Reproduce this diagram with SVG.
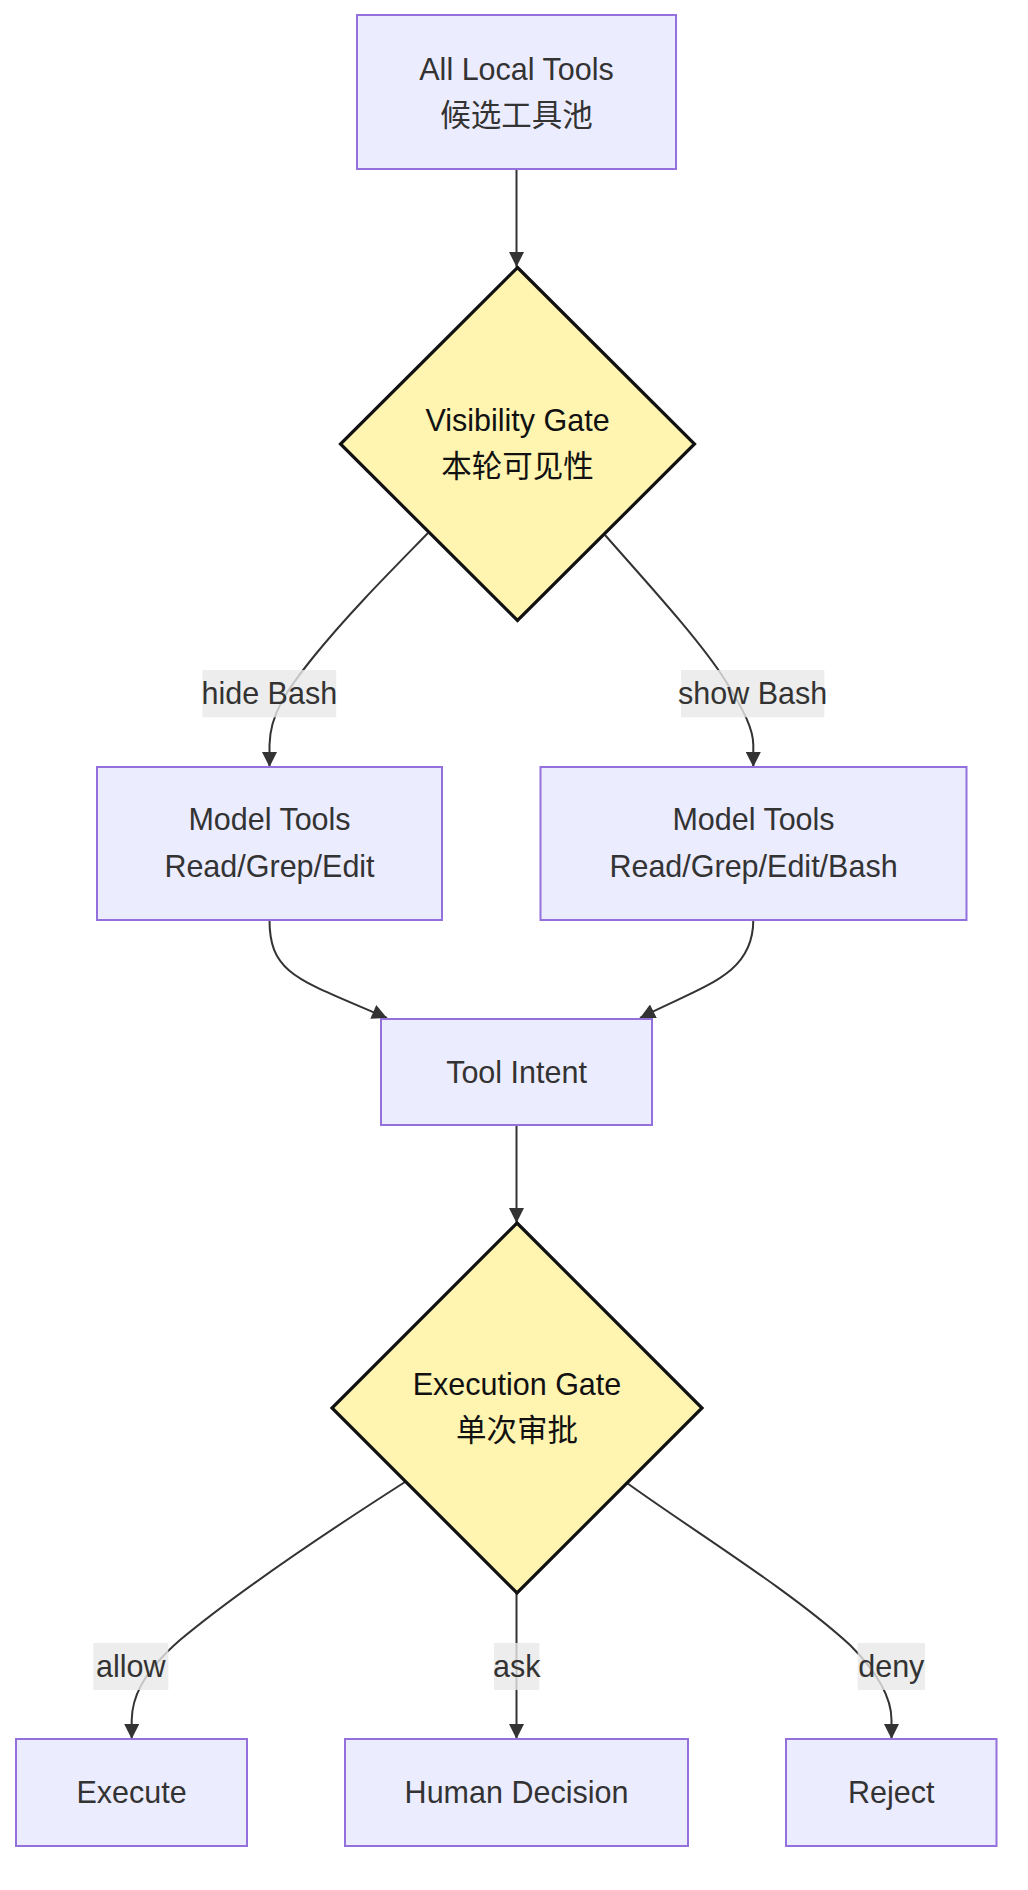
<svg xmlns="http://www.w3.org/2000/svg" width="1028" height="1890" viewBox="0 0 1028 1890">
<defs>
<marker id="arrow" viewBox="0 0 10 10" refX="10" refY="5" markerUnits="userSpaceOnUse" markerWidth="15.5" markerHeight="15" orient="auto">
<path d="M0,0 L10,5 L0,10 z" fill="#333"/>
</marker>
<style>
text{font-family:"Trebuchet MS","Liberation Sans","Noto Sans CJK SC",sans-serif;font-size:30.5px;text-anchor:middle;fill:#333;}
.box{fill:#ECECFF;stroke:#9370DB;stroke-width:2;}
.gate{fill:#FFF4B0;stroke:#111;stroke-width:3.2;stroke-linejoin:miter;}
.gt{fill:#111;}
.edge{fill:none;stroke:#333;stroke-width:2;marker-end:url(#arrow);}
.lbl{fill:#E8E8E8;fill-opacity:0.8;}
</style>
</defs>
<rect width="1028" height="1890" fill="#fff"/>

<g id="connectors">
<path class="edge" d="M516.5,169 L516.5,267"/>
<path class="edge" d="M428,533 C390,572 350,612 315,655 C285,692 270,715 269.5,745 L269.5,767"/>
<path class="edge" d="M605,535 C640,575 700,640 725,680 C745,712 753.3,730 753.3,745 L753.3,767"/>
<path class="edge" d="M269.5,920 C269.5,975 300,980 387,1018"/>
<path class="edge" d="M753.3,920 C753.3,975 705,985 640,1018"/>
<path class="edge" d="M516.5,1125 L516.5,1223"/>
<path class="edge" d="M405,1482 C330,1530 240,1590 180,1640 C140,1675 132,1700 131.7,1720 L131.7,1739"/>
<path class="edge" d="M516.5,1593 L516.5,1739"/>
<path class="edge" d="M627,1483 C692,1530 790,1590 850,1645 C880,1675 891.5,1700 891.5,1720 L891.5,1739"/>
</g>

<g id="edge-labels">
<g id="label-hide"><rect class="lbl" x="202.4" y="670" width="133.8" height="47.3"/><text x="269.3" y="703.5">hide Bash</text></g>
<g id="label-show"><rect class="lbl" x="681" y="670" width="143.3" height="47.3"/><text x="752.7" y="703.5">show Bash</text></g>
<g id="label-allow"><rect class="lbl" x="93.3" y="1643" width="75" height="47"/><text x="130.8" y="1676.5">allow</text></g>
<g id="label-ask"><rect class="lbl" x="494" y="1643" width="45.3" height="47"/><text x="516.7" y="1676.5">ask</text></g>
<g id="label-deny"><rect class="lbl" x="857.7" y="1643" width="67.3" height="47"/><text x="891.3" y="1676.5">deny</text></g>
</g>

<g id="all-local-tools">
<rect class="box" x="357" y="15" width="319" height="154"/>
<text x="516.5" y="79.5">All Local Tools</text>
<text x="516.5" y="126">候选工具池</text>
</g>

<g id="visibility-gate">
<polygon class="gate" points="517.5,267.5 694.5,444 517.5,620.5 340.5,444"/>
<text class="gt" x="517.5" y="430.5">Visibility Gate</text>
<text class="gt" x="517.5" y="477">本轮可见性</text>
</g>

<g id="model-tools-a">
<rect class="box" x="97" y="767" width="345" height="153"/>
<text x="269.5" y="830">Model Tools</text>
<text x="269.5" y="876.5">Read/Grep/Edit</text>
</g>

<g id="model-tools-b">
<rect class="box" x="540.5" y="767" width="426" height="153"/>
<text x="753.5" y="830">Model Tools</text>
<text x="753.5" y="876.5">Read/Grep/Edit/Bash</text>
</g>

<g id="tool-intent">
<rect class="box" x="381" y="1019" width="271" height="106"/>
<text x="516.5" y="1082.5">Tool Intent</text>
</g>

<g id="execution-gate">
<polygon class="gate" points="517,1223 702,1408 517,1593 332,1408"/>
<text class="gt" x="517" y="1394.5">Execution Gate</text>
<text class="gt" x="517" y="1441">单次审批</text>
</g>

<g id="execute">
<rect class="box" x="16" y="1739" width="231" height="107"/>
<text x="131.5" y="1803">Execute</text>
</g>

<g id="human-decision">
<rect class="box" x="345" y="1739" width="343" height="107"/>
<text x="516.5" y="1803">Human Decision</text>
</g>

<g id="reject">
<rect class="box" x="786" y="1739" width="210.5" height="107"/>
<text x="891.3" y="1803">Reject</text>
</g>
</svg>
